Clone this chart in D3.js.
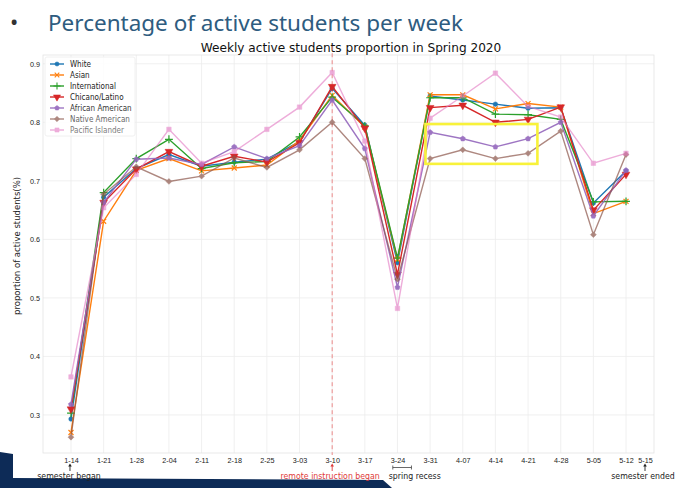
<!DOCTYPE html>
<html>
<head>
<meta charset="utf-8">
<script src="https://cdn.jsdelivr.net/npm/d3@7"></script>
<style>
  body { margin: 0; background: #fff; }
  svg { display: block; font-family: "DejaVu Sans", sans-serif; }
</style>
</head>
<body>
<svg width="680" height="488"></svg>
<script>
// weekly snapshots, spring 2020
const weeks = ['1-14', '1-21', '1-28', '2-04', '2-11', '2-18', '2-25', '3-03', '3-10',
               '3-17', '3-24', '3-31', '4-07', '4-14', '4-21', '4-28', '5-05', '5-12'];

const white         = [0.293, 0.672, 0.721, 0.745, 0.725, 0.732, 0.737, 0.767, 0.858, 0.795, 0.560, 0.845, 0.838, 0.831, 0.824, 0.825, 0.662, 0.717];
const asian         = [0.270, 0.631, 0.718, 0.738, 0.717, 0.722, 0.727, 0.769, 0.846, 0.792, 0.566, 0.847, 0.847, 0.823, 0.832, 0.826, 0.644, 0.665];
const international = [0.303, 0.680, 0.738, 0.771, 0.721, 0.731, 0.733, 0.775, 0.843, 0.794, 0.568, 0.842, 0.842, 0.814, 0.813, 0.805, 0.664, 0.665];
const chicano       = [0.310, 0.663, 0.720, 0.750, 0.725, 0.742, 0.732, 0.765, 0.861, 0.790, 0.540, 0.825, 0.829, 0.800, 0.805, 0.826, 0.650, 0.711];
const african       = [0.318, 0.663, 0.737, 0.739, 0.728, 0.758, 0.738, 0.760, 0.838, 0.755, 0.518, 0.783, 0.772, 0.758, 0.772, 0.800, 0.640, 0.718];
const native        = [0.262, 0.677, 0.724, 0.699, 0.708, 0.739, 0.723, 0.753, 0.800, 0.738, 0.532, 0.738, 0.753, 0.738, 0.747, 0.785, 0.608, 0.745];
const pacific       = [0.365, 0.654, 0.711, 0.788, 0.730, 0.750, 0.788, 0.826, 0.885, 0.768, 0.482, 0.807, 0.845, 0.884, 0.827, 0.809, 0.730, 0.747];

const seriesNames = ['White', 'Asian', 'International', 'Chicano/Latino',
                     'African American', 'Native American', 'Pacific Islander'];
const seriesValues = [white, asian, international, chicano, african, native, pacific];

const yTicks = [0.3, 0.4, 0.5, 0.6, 0.7, 0.8, 0.9];

const semesterStart = '1-14';
const remoteStart = '3-10';
const semesterEnd = '5-15';
const recess = ['3-23', '3-27'];
const highlightWeeks = ['3-30', '4-23'];
const highlightRange = [0.729, 0.797];

const colors = ['#1f77b4', '#ff7f0e', '#2ca02c', '#d62728', '#9467bd', '#8c564b', '#e377c2'];
const alphas = [1, 1, 1, 1, 0.9, 0.7, 0.6];

// matplotlib-ish marker shapes
const pentagon = {
  draw(ctx, size) {
    const r = Math.sqrt(size) * 0.66;
    for (let i = 0; i < 5; i++) {
      const a = -Math.PI / 2 + i * 2 * Math.PI / 5;
      i ? ctx.lineTo(r * Math.cos(a), r * Math.sin(a)) : ctx.moveTo(r * Math.cos(a), r * Math.sin(a));
    }
    ctx.closePath();
  }
};
const markers = [
  { type: d3.symbolCircle, size: 16, fill: true },
  { type: d3.symbolTimes, size: 18, fill: false },
  { type: d3.symbolPlus, size: 22, fill: false },
  { type: d3.symbolTriangle, size: 26, fill: true, rotate: 180 },
  { type: pentagon, size: 17, fill: true },
  { type: d3.symbolDiamond2, size: 22, fill: true },
  { type: d3.symbolSquare, size: 20, fill: true }
];

const parse = s => d3.timeParse('%Y-%m-%d')('2020-' + s);
const SQUEEZE = 0.9;

const svg = d3.select('svg');
const plot = { left: 43, right: 654, top: 55, bottom: 453 };

const x = d3.scaleTime()
  .domain([parse('1-08'), parse('5-18')])
  .range([plot.left, plot.right]);
const y = d3.scaleLinear()
  .domain([0.235, 0.915])
  .range([plot.bottom, plot.top]);

function squeeze(sel, k = SQUEEZE) {
  sel.each(function () {
    const w = this.getComputedTextLength();
    d3.select(this).attr('textLength', w * k).attr('lengthAdjust', 'spacingAndGlyphs');
  });
}

// slide chrome
svg.append('path')
  .attr('d', 'M0,452 L13,454 L13,478 L383,480 L392,488 L0,488 Z')
  .attr('fill', '#0d2b57');

svg.append('text')
  .attr('x', 10).attr('y', 30)
  .attr('font-family', '"Noto Sans", sans-serif')
  .attr('font-size', 22).attr('fill', '#333')
  .text('•');

svg.append('text')
  .attr('x', 48).attr('y', 31)
  .attr('font-family', '"Noto Sans", sans-serif')
  .attr('font-size', 22.5).attr('fill', '#2e5c7f')
  .text('Percentage of active students per week');

// grid + frame
const grid = svg.append('g');
grid.selectAll('.vgrid')
  .data(weeks)
  .enter().append('line')
    .attr('x1', d => x(parse(d))).attr('x2', d => x(parse(d)))
    .attr('y1', plot.top).attr('y2', plot.bottom)
    .attr('stroke', '#ececec').attr('stroke-width', 0.8);
grid.selectAll('.hgrid')
  .data(yTicks)
  .enter().append('line')
    .attr('x1', plot.left).attr('x2', plot.right)
    .attr('y1', d => y(d)).attr('y2', d => y(d))
    .attr('stroke', '#ececec').attr('stroke-width', 0.8);
svg.append('rect')
  .attr('x', plot.left).attr('y', plot.top)
  .attr('width', plot.right - plot.left).attr('height', plot.bottom - plot.top)
  .attr('fill', 'none').attr('stroke', '#e3e3e3').attr('stroke-width', 0.8);

// axes
const yAxis = svg.append('g')
  .attr('transform', `translate(${plot.left},0)`)
  .call(d3.axisLeft(y).tickValues(yTicks).tickSize(0).tickPadding(3).tickFormat(d3.format('.1f')));
yAxis.select('.domain').remove();
yAxis.selectAll('text').attr('font-size', 8).attr('fill', '#222').call(squeeze);

const xAxis = svg.append('g')
  .attr('transform', `translate(0,${plot.bottom})`)
  .call(d3.axisBottom(x)
    .tickValues(weeks.concat([semesterEnd]).map(parse))
    .tickSize(0).tickPadding(4)
    .tickFormat(d3.timeFormat('%-m-%d')));
xAxis.select('.domain').remove();
xAxis.selectAll('text')
  .attr('font-size', 8).attr('fill', '#222')
  .attr('dx', d => +d === +parse(semesterEnd) ? 5 : 0)
  .call(squeeze);

svg.append('text')
  .attr('transform', 'translate(17,246) rotate(-90)')
  .attr('text-anchor', 'middle').attr('dy', '0.35em')
  .attr('font-size', 8.5).attr('fill', '#222')
  .text('proportion of active students(%)');

svg.append('text')
  .attr('x', 351).attr('y', 51.5)
  .attr('text-anchor', 'middle')
  .attr('font-size', 12.5).attr('fill', '#111')
  .text('Weekly active students proportion in Spring 2020')
  .call(squeeze, 0.97);

// remote instruction marker
svg.append('line')
  .attr('x1', x(parse(remoteStart))).attr('x2', x(parse(remoteStart)))
  .attr('y1', y(0.93)).attr('y2', plot.bottom + 2)
  .attr('stroke', '#ec8a8a').attr('stroke-width', 1).attr('stroke-dasharray', '4,3');

// series
const line = d3.line().x((d, i) => x(parse(weeks[i]))).y(d => y(d));
const symbolPath = (m, scale = 1) => d3.symbol().type(m.type).size(m.size * scale)();

seriesValues.forEach((vals, s) => {
  const g = svg.append('g').attr('opacity', alphas[s]);
  g.append('path')
    .attr('d', line(vals))
    .attr('fill', 'none').attr('stroke', colors[s]).attr('stroke-width', 1.4);
  const m = markers[s];
  g.selectAll('.pt')
    .data(vals)
    .enter().append('path')
      .attr('transform', (d, i) => `translate(${x(parse(weeks[i]))},${y(d)})` + (m.rotate ? ` rotate(${m.rotate})` : ''))
      .attr('d', symbolPath(m))
      .attr('fill', m.fill ? colors[s] : 'none')
      .attr('stroke', colors[s]).attr('stroke-width', m.fill ? 0.5 : 1.2);
});

// highlight box
svg.append('rect')
  .attr('x', x(parse(highlightWeeks[0])))
  .attr('y', y(highlightRange[1]))
  .attr('width', x(parse(highlightWeeks[1])) - x(parse(highlightWeeks[0])))
  .attr('height', y(highlightRange[0]) - y(highlightRange[1]))
  .attr('fill', 'none').attr('stroke', '#f8f23a').attr('stroke-width', 2.6);

// legend
const legend = svg.append('g').attr('transform', `translate(${plot.left + 2},${plot.top + 2})`);
legend.append('rect')
  .attr('width', 90).attr('height', 79).attr('rx', 2)
  .attr('fill', '#fff').attr('fill-opacity', 0.85)
  .attr('stroke', '#ececec').attr('stroke-width', 0.8);
const rows = legend.selectAll('.row')
  .data(seriesNames)
  .enter().append('g')
    .attr('transform', (d, i) => `translate(0,${7 + i * 11})`)
    .attr('opacity', (d, i) => alphas[i]);
rows.append('line')
  .attr('x1', 5).attr('x2', 19)
  .attr('stroke', (d, i) => colors[i]).attr('stroke-width', 1.4);
rows.append('path')
  .attr('transform', (d, i) => 'translate(12,0)' + (markers[i].rotate ? ` rotate(${markers[i].rotate})` : ''))
  .attr('d', (d, i) => symbolPath(markers[i], 0.85))
  .attr('fill', (d, i) => markers[i].fill ? colors[i] : 'none')
  .attr('stroke', (d, i) => colors[i]).attr('stroke-width', (d, i) => markers[i].fill ? 0.5 : 1.1);
rows.append('text')
  .attr('x', 25).attr('dy', '0.35em')
  .attr('font-size', 8).attr('fill', '#222')
  .text(d => d)
  .call(squeeze, 0.9);

// annotations under the axis
function arrow(xp, color) {
  svg.append('line')
    .attr('x1', xp).attr('x2', xp).attr('y1', 471).attr('y2', 465)
    .attr('stroke', color).attr('stroke-width', 0.9);
  svg.append('path')
    .attr('d', `M${xp - 1.8},466.5 L${xp},463.5 L${xp + 1.8},466.5 Z`)
    .attr('fill', color);
}
function note(xp, text, color, anchor = 'middle') {
  svg.append('text')
    .attr('x', xp).attr('y', 478.5)
    .attr('text-anchor', anchor)
    .attr('font-size', 8.5).attr('fill', color)
    .text(text)
    .call(squeeze, 0.92);
}

const xBegin = x(parse(semesterStart));
const xRemote = x(parse(remoteStart));
const xEnd = x(parse(semesterEnd)) + 5;
arrow(xBegin - 1, '#222');
note(xBegin - 2, 'semester began', '#222');
arrow(xRemote, '#e03a3a');
note(xRemote - 2, 'remote instruction began', '#e03a3a');
arrow(xEnd, '#222');
note(xEnd - 2, 'semester ended', '#222');

const r0 = x(parse(recess[0])), r1 = x(parse(recess[1]));
svg.append('path')
  .attr('d', `M${r0},465.5 V469.5 M${r0},467.5 H${r1} M${r1},465.5 V469.5`)
  .attr('stroke', '#444').attr('stroke-width', 0.8).attr('fill', 'none');
note(r0 - 4, 'spring recess', '#222', 'start');
</script>
</body>
</html>
